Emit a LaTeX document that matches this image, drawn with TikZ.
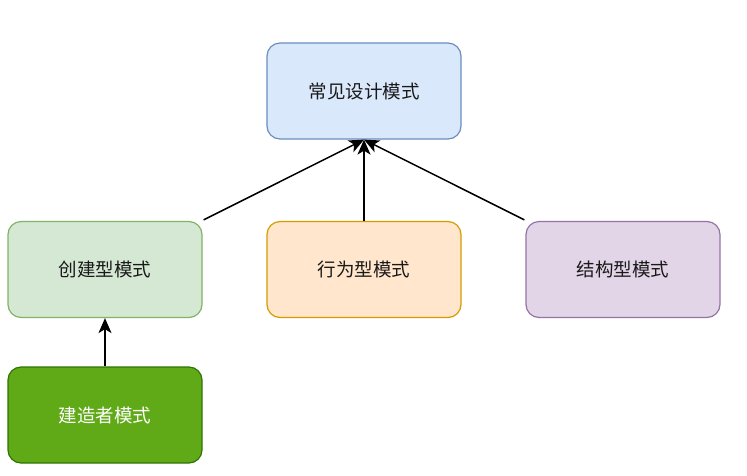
\documentclass[tikz,border=0pt]{standalone}
\usepackage{fontspec}
\setmainfont{Noto Sans CJK SC}
\usetikzlibrary{arrows.meta}
\definecolor{bluef}{HTML}{DAE8FC}\definecolor{blued}{HTML}{6C8EBF}
\definecolor{greenf}{HTML}{D5E8D4}\definecolor{greend}{HTML}{82B366}
\definecolor{orangef}{HTML}{FFE6CC}\definecolor{oranged}{HTML}{D79B00}
\definecolor{purplef}{HTML}{E1D5E7}\definecolor{purpled}{HTML}{9673A6}
\definecolor{darkgf}{HTML}{60A917}\definecolor{darkgd}{HTML}{2D7600}
\begin{document}
\begin{tikzpicture}[x=1pt,y=-1pt,
  box/.style={draw, line width=1.2pt, rounded corners=13pt, minimum width=194pt, minimum height=96pt, inner sep=0pt, font=\fontsize{18.5}{22}\selectfont, text=black!90},
  arr/.style={line width=1.5pt, -{Stealth[length=15pt,width=13pt,inset=4pt]}}]
\useasboundingbox (0,0) rectangle (747,475);
\fill[white] (0,0) rectangle (747,475);
\node[box, fill=bluef, draw=blued] (top) at (364,91) {常见设计模式};
\node[box, fill=greenf, draw=greend] (left) at (105,269.5) {创建型模式};
\node[box, fill=orangef, draw=oranged] (mid) at (364,269.5) {行为型模式};
\node[box, fill=purplef, draw=purpled] (right) at (623,269.5) {结构型模式};
\node[box, fill=darkgf, draw=darkgd, text=white] (bot) at (105,415) {建造者模式};
\draw[arr] ([shift={(1,-1)}]left.north east) -- (top.south);
\draw[arr] (mid.north) -- (top.south);
\draw[arr] ([shift={(-1,-1)}]right.north west) -- (top.south);
\draw[arr] (bot.north) -- (left.south);
\end{tikzpicture}
\end{document}
